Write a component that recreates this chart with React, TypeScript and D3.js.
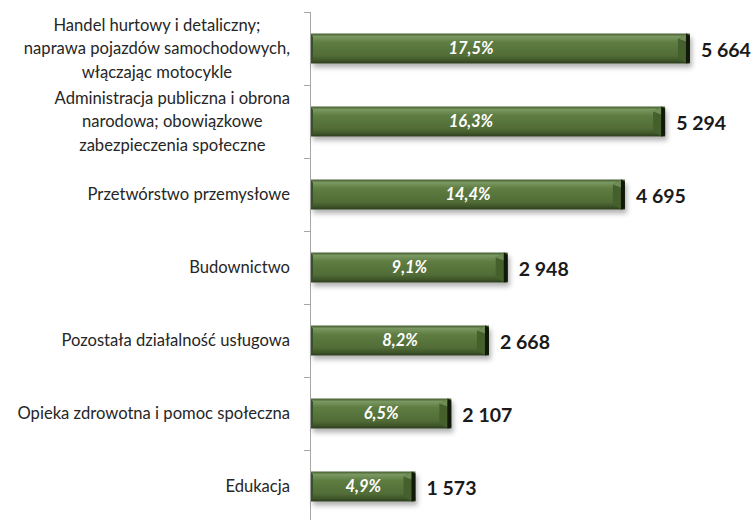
import React, { useEffect, useRef } from 'react';
import * as d3 from 'd3';

// sectors (top to bottom), employment values and share labels
const categories = [
  ['Handel hurtowy i detaliczny;', 'naprawa pojazdów samochodowych,', 'włączając motocykle'],
  ['Administracja publiczna i obrona', 'narodowa; obowiązkowe', 'zabezpieczenia społeczne'],
  ['Przetwórstwo przemysłowe'],
  ['Budownictwo'],
  ['Pozostała działalność usługowa'],
  ['Opieka zdrowotna i pomoc społeczna'],
  ['Edukacja'],
];
const values = [5664, 5294, 4695, 2948, 2668, 2107, 1573];
const shares = ['17,5%', '16,3%', '14,4%', '9,1%', '8,2%', '6,5%', '4,9%'];

const width = 755;
const height = 520;
const FONT = 'Lato, "Open Sans", sans-serif';

export default function App() {
  const svgRef = useRef<SVGSVGElement>(null);

  useEffect(() => {
    if (!svgRef.current) return;
    const svg = d3.select(svgRef.current);
    svg.selectAll('*').remove();

    const axisX = 310;
    const x = d3.scaleLinear().domain([0, 6000]).range([axisX, axisX + 402.5]);
    const keys = categories.map((_, i) => String(i));
    const y = d3.scaleBand().domain(keys).range([12, 523]).paddingInner(0.59).paddingOuter(0.295);
    const bw = y.bandwidth();

    const defs = svg.append('defs');
    const grad = defs.append('linearGradient').attr('id', 'face').attr('x1', 0).attr('x2', 0).attr('y1', 0).attr('y2', 1);
    [[0, '#41592b'], [0.1, '#7a9862'], [0.3, '#5e7d41'], [0.75, '#516c36'], [0.9, '#3f5529'], [1, '#2c3c1c']].forEach(([o, c]) =>
      grad.append('stop').attr('offset', o as number).attr('stop-color', c as string));
    const sh = defs.append('filter').attr('id', 'shadow').attr('x', '-10%').attr('y', '-30%').attr('width', '130%').attr('height', '180%');
    sh.append('feDropShadow').attr('dx', 2).attr('dy', 4).attr('stdDeviation', 2.5)
      .attr('flood-color', '#000').attr('flood-opacity', 0.3);

    // axis line + tick marks at category boundaries
    svg.append('line').attr('x1', axisX + 0.5).attr('x2', axisX + 0.5).attr('y1', 12).attr('y2', height)
      .attr('stroke', '#a6a6a6').attr('stroke-width', 1);
    const step = y.step();
    d3.range(categories.length + 1).forEach(i => {
      const ty = Math.round(12 + i * step) + 0.5;
      svg.append('line').attr('x1', axisX - 6).attr('x2', axisX).attr('y1', ty).attr('y2', ty)
        .attr('stroke', '#a6a6a6').attr('stroke-width', 1);
    });

    values.forEach((v, i) => {
      const y0 = y(String(i))!;
      const y1 = y0 + bw;
      const x0 = axisX + 1;
      const x1 = x(v);
      const g = svg.append('g');
      g.append('rect').attr('x', x0).attr('y', y0).attr('width', x1 - x0).attr('height', bw)
        .attr('fill', 'url(#face)').attr('filter', 'url(#shadow)');
      const poly = (pts: number[][], fill: string) =>
        g.append('polygon').attr('points', pts.map(p => p.join(',')).join(' ')).attr('fill', fill);
      // left edge, right bevel and dark end
      poly([[x0, y0 + 1], [x0 + 2, y0 + 3], [x0 + 2, y1 - 3], [x0, y1 - 1]], '#3a5026');
      poly([[x1 - 3, y0], [x1 - 12, y0 + 5], [x1 - 12, y1 - 5], [x1 - 3, y1]], '#45602c');
      poly([[x1 - 3, y0], [x1 - 12, y0 + 5], [x1 - 4, y0 + 8]], '#6f8d55');
      poly([[x1 - 4, y0], [x1, y0 + 2], [x1, y1 - 1], [x1 - 4, y1]], '#111a0a');

      // share label inside bar
      const lx = Math.min((x0 + x1) / 2, x(2400));
      svg.append('text').attr('x', lx).attr('y', (y0 + y1) / 2).attr('dy', '0.35em')
        .attr('text-anchor', 'middle').attr('fill', '#fff').attr('font-family', FONT)
        .attr('font-style', 'italic').attr('font-weight', 700).attr('font-size', 16.5).text(shares[i]);

      // value label
      svg.append('text').attr('x', x1 + 11).attr('y', (y0 + y1) / 2 + 2).attr('dy', '0.35em')
        .attr('fill', '#1a1a1a').attr('font-family', FONT).attr('font-weight', 700)
        .attr('font-size', 19.5).text(d3.format(',')(v).replace(',', ' '));
    });

    // category labels: block right-aligned at 291, lines centered within block
    categories.forEach((lines, i) => {
      const cy = y(String(i))! + bw / 2;
      const lh = 23.5;
      const g = svg.append('g');
      const texts = lines.map((l, j) =>
        g.append('text').attr('y', cy + (j - (lines.length - 1) / 2) * lh).attr('dy', '0.35em')
          .attr('text-anchor', 'middle').attr('fill', '#262626').attr('font-family', FONT)
          .attr('font-size', 16.6).text(l));
      const maxW = d3.max(texts, t => (t.node() as SVGTextElement).getComputedTextLength()) || 0;
      const cx = 290 - maxW / 2;
      texts.forEach(t => t.attr('x', cx));
    });
  }, []);

  return (
    <div style={{ position: 'fixed', left: 0, top: 0, width, height, background: '#fff' }}>
      <svg ref={svgRef} width={width} height={height} style={{ display: 'block' }} />
    </div>
  );
}
